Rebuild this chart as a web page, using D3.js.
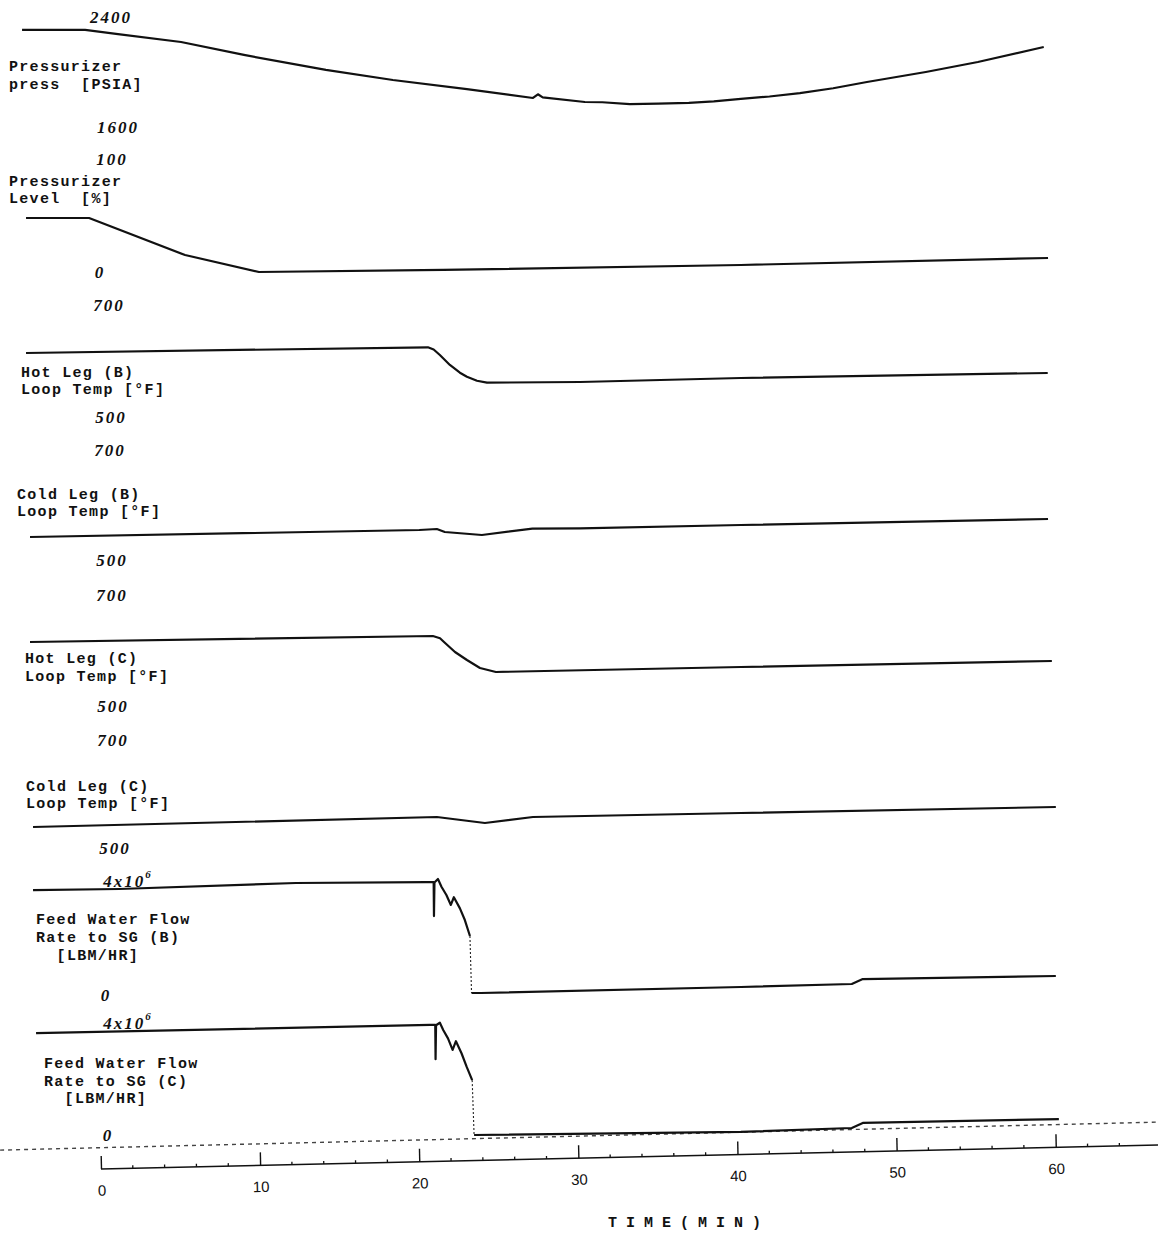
<!DOCTYPE html>
<html><head><meta charset="utf-8">
<script src="https://cdn.jsdelivr.net/npm/d3@7"></script>
<style>body{margin:0;background:#fff} svg{display:block}</style>
</head><body>
<script>
// ---------------- DATA ----------------
const timeTicks = [0, 10, 20, 30, 40, 50, 60];
const timeMinorTicks = [2,4,6,8,12,14,16,18,22,24,26,28,32,34,36,38,42,44,46,48,52,54,56,58,62,64];
const axisTitle = "TIME(MIN)";

const panelTitles = [
  ["Pressurizer", "press  [PSIA]"],
  ["Pressurizer", "Level  [%]"],
  ["Hot Leg (B)", "Loop Temp [°F]"],
  ["Cold Leg (B)", "Loop Temp [°F]"],
  ["Hot Leg (C)", "Loop Temp [°F]"],
  ["Cold Leg (C)", "Loop Temp [°F]"],
  ["Feed Water Flow", "Rate to SG (B)", "  [LBM/HR]"],
  ["Feed Water Flow", "Rate to SG (C)", "  [LBM/HR]"]
];
const scaleTopValues    = [2400, 100, 700, 700, 700, 700, 4, 4];   // feed flow in 10^6 LBM/HR
const scaleBottomValues = [1600, 0, 500, 500, 500, 500, 0, 0];
const scaleTopLabels    = ["2400", "100", "700", "700", "700", "700", "4x10|6", "4x10|6"];
const scaleBottomLabels = ["1600", "0", "500", "500", "500", "500", "0", "0"];

// [time (min), value]
const pressurizerPress = [[-4.96,2306],[-1.0,2306],[1.07,2276],[5.03,2218],[8.98,2124],[14.13,2015],[18.34,1942],[22.99,1876],[27.14,1811],[27.45,1838],[27.75,1815],[30.40,1782],[31.5,1780],[33.23,1767],[35.0,1770],[36.93,1775],[38.5,1786],[40.20,1804],[42.0,1822],[43.91,1847],[46.0,1882],[48.12,1927],[51.82,2000],[55.09,2073],[59.23,2182]];
const pressurizerLevel = [[-4.71,47.8],[-0.75,47.8],[5.28,15.0],[9.92,0],[21.5,1.8],[40.2,6.2],[59.5,12.4]];
const hotLegB  = [[-4.71,614.3],[20.54,624.5],[20.9,620.5],[21.29,610.7],[21.92,592.9],[22.55,579.1],[22.99,572],[23.62,564.8],[24.25,561.3],[30.1,562.5],[40.2,569.6],[59.48,578.6]];
const coldLegB = [[-4.46,541.8],[20.0,554.5],[21.1,556.4],[21.6,550.9],[23.93,545.5],[27.1,557.0],[30.1,557.6],[40.2,563.6],[59.5,574.5]];
const hotLegC  = [[-4.46,615.3],[20.85,626.1],[21.3,622],[21.55,615.3],[22.24,597.3],[22.99,582.9],[23.81,568.5],[24.81,561.3],[40.2,570.3],[59.74,581.1]];
const coldLegC = [[-4.27,538.9],[21.1,557.4],[24.12,546.3],[27.14,557.4],[40.2,564.8],[59.99,575.9]];
const feedB_before = [[-4.27,3.68],[1.13,3.72],[12.25,3.93],[20.41,3.96],[20.90,3.96],[20.92,2.77],[20.95,3.95],[21.17,4.07],[21.39,3.80],[21.70,3.51],[21.98,3.16],[22.17,3.43],[22.55,3.04],[22.86,2.63],[23.18,2.07]];
const feedB_drop   = [[23.18,2.07],[23.28,0.07]];
const feedB_after  = [[23.28,0.07],[23.87,0.07],[40.2,0.28],[47.17,0.386],[47.86,0.56],[59.99,0.667]];
const feedC_before = [[-4.08,3.64],[20.67,3.93],[21.0,3.93],[21.02,2.71],[21.05,3.92],[21.29,4.01],[21.5,3.75],[21.8,3.45],[22.09,3.04],[22.3,3.35],[22.65,2.92],[22.97,2.44],[23.32,1.96]];
const feedC_drop   = [[23.32,1.96],[23.44,0.0]];
const feedC_after  = [[23.44,0.0],[40.2,0.11],[47.17,0.25],[47.86,0.43],[60.18,0.57]];
const feedC_reference = [[-6.34,-0.54],[66.4,0.46]];

const solidSeries  = [[pressurizerPress],[pressurizerLevel],[hotLegB],[coldLegB],[hotLegC],[coldLegC],[feedB_before, feedB_after],[feedC_before, feedC_after]];
const dashedSeries = [[],[],[],[],[],[],[feedB_drop],[feedC_drop]];
const dottedSeries = [[],[],[],[],[],[],[],[feedC_reference]];

// ---------------- LAYOUT ----------------
const W = 1158, H = 1235;
const layout = [
  {py:[17,127],  tx:[111,118], tbx:9,  tby:[71,89]},
  {py:[159,272], tx:[112,100], tbx:9,  tby:[186,203]},
  {py:[305,417], tx:[109,111], tbx:21, tby:[377,394]},
  {py:[450,560], tx:[110,112], tbx:17, tby:[499,516]},
  {py:[595,706], tx:[112,113], tbx:25, tby:[663,681]},
  {py:[740,848], tx:[113,115], tbx:26, tby:[791,808]},
  {py:[881,995], tx:[128,106], tbx:36, tby:[924,942,960]},
  {py:[1023,1135],tx:[128,108], tbx:44, tby:[1068,1086,1103]}
];
const axisY = 1169, axisAngle = -1.3;

const svg = d3.select("body").append("svg").attr("width", W).attr("height", H)
  .style("background", "#fff");

const x = d3.scaleLinear().domain([0, 60]).range([101, 1056]);

const hand = {family: "'Liberation Serif', 'DejaVu Serif', serif", size: 17};
const mono = "'Liberation Mono', 'DejaVu Sans Mono', monospace";

layout.forEach((L, i) => {
  const y = d3.scaleLinear().domain([scaleBottomValues[i], scaleTopValues[i]]).range([L.py[1], L.py[0]]);
  const line = d3.line().x(d => x(d[0])).y(d => y(d[1]));
  const g = svg.append("g");

  dottedSeries[i].forEach(s => g.append("path").attr("d", line(s))
    .attr("fill", "none").attr("stroke", "#444").attr("stroke-width", 1.4)
    .attr("stroke-dasharray", "4,4"));
  solidSeries[i].forEach(s => g.append("path").attr("d", line(s))
    .attr("fill", "none").attr("stroke", "#111").attr("stroke-width", 2.2)
    .attr("stroke-linejoin", "round"));
  dashedSeries[i].forEach(s => g.append("path").attr("d", line(s))
    .attr("fill", "none").attr("stroke", "#222").attr("stroke-width", 1.1)
    .attr("stroke-dasharray", "2,2"));

  // handwritten scale labels
  [[scaleTopLabels[i], scaleTopValues[i], L.tx[0]], [scaleBottomLabels[i], scaleBottomValues[i], L.tx[1]]].forEach(([lab, val, cx]) => {
    const t = g.append("text").attr("x", cx).attr("y", y(val))
      .attr("text-anchor", "middle").attr("dominant-baseline", "central")
      .attr("font-family", hand.family).attr("font-style", "italic").attr("font-weight", "bold")
      .attr("font-size", hand.size).attr("letter-spacing", 2).attr("fill", "#111");
    const parts = lab.split("|");
    t.append("tspan").text(parts[0]);
    if (parts[1]) t.append("tspan").attr("dy", -7).attr("font-size", 11).text(parts[1]);
  });

  // typed panel titles
  panelTitles[i].forEach((txt, k) => {
    g.append("text").attr("x", L.tbx).attr("y", L.tby[k])
      .attr("font-family", mono).attr("font-size", 15).attr("font-weight", "bold")
      .attr("letter-spacing", 1.3)
      .attr("fill", "#111").style("white-space", "pre").text(txt);
  });
});

// ---------------- TIME AXIS ----------------
const ax = svg.append("g")
  .attr("transform", `rotate(${axisAngle},${x(0)},${axisY}) translate(0,${axisY})`);
ax.call(d3.axisBottom(x).tickValues(timeTicks).tickSize(-13).tickPadding(16).tickFormat(d3.format("d")))
  .call(g => g.select(".domain").remove())
  .call(g => g.selectAll(".tick line").attr("stroke", "#111").attr("stroke-width", 1.4))
  .call(g => g.selectAll(".tick text").attr("font-family", "'Liberation Sans', Arial, sans-serif")
      .attr("font-size", 15).attr("fill", "#111"));
ax.append("line").attr("x1", x(0)).attr("x2", x(66.5)).attr("y1", 0).attr("y2", 0)
  .attr("stroke", "#111").attr("stroke-width", 1.6);
ax.selectAll(".minor").data(timeMinorTicks).join("line").attr("class", "minor")
  .attr("x1", d => x(d)).attr("x2", d => x(d)).attr("y1", 0).attr("y2", -3)
  .attr("stroke", "#111").attr("stroke-width", 1.3);

svg.append("text").attr("x", 689).attr("y", 1227).attr("text-anchor", "middle")
  .attr("font-family", mono).attr("font-size", 15).attr("font-weight", "bold").attr("letter-spacing", 9)
  .attr("fill", "#111").text(axisTitle);
</script>
</body></html>
